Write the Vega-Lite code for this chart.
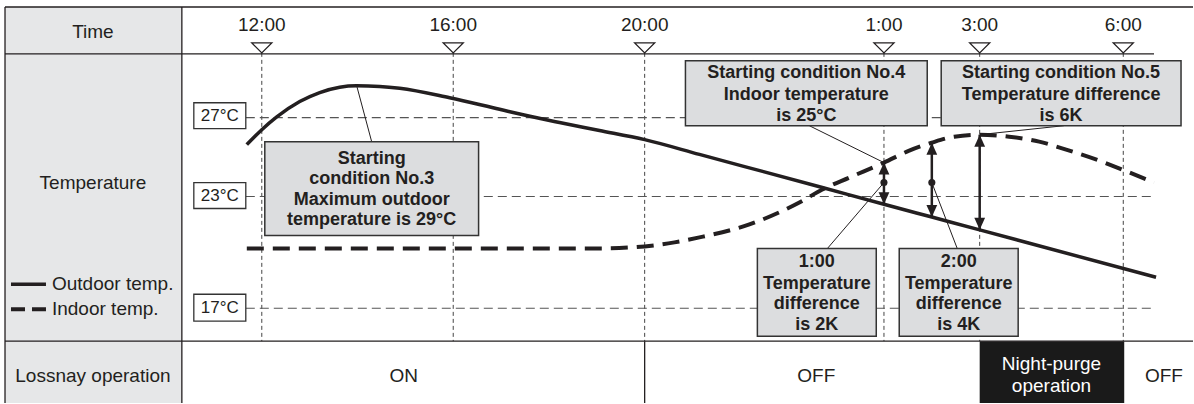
{
  "$schema": "https://vega.github.io/schema/vega-lite/v6.json",
  "width": 1194,
  "height": 404,
  "padding": 0,
  "autosize": {"type": "fit", "contains": "padding"},
  "background": "white",
  "config": {"view": {"stroke": null}, "text": {"font": "Liberation Sans"}},
  "datasets": {
    "leftcol": [{"h": 6.635, "h2": 10.33, "v": 0, "v2": 99.25}],
    "purge": [{"h": 27.0, "h2": 30.02, "v": 0, "v2": 15.5}],
    "tablelines": [
      {"h": 6.635, "h2": 31.457, "v": 99.25, "v2": 99.25},
      {"h": 6.635, "h2": 30.643, "v": 87.5, "v2": 87.5},
      {"h": 6.635, "h2": 31.457, "v": 15.5, "v2": 15.5},
      {"h": 6.635, "h2": 6.635, "v": 0, "v2": 99.25},
      {"h": 10.33, "h2": 10.33, "v": 0, "v2": 99.25},
      {"h": 20.0, "h2": 20.0, "v": 0, "v2": 15.5}
    ],
    "vgrid": [
      {"h": 12, "h2": 12, "v": 87.75, "v2": 15.5},
      {"h": 16, "h2": 16, "v": 87.75, "v2": 15.5},
      {"h": 20, "h2": 20, "v": 87.75, "v2": 15.5},
      {"h": 25, "h2": 25, "v": 87.75, "v2": 15.5},
      {"h": 27, "h2": 27, "v": 87.75, "v2": 15.5},
      {"h": 30, "h2": 30, "v": 87.75, "v2": 15.5}
    ],
    "hgrid": [
      {"h": 11.666, "h2": 30.643, "v": 71.5, "v2": 71.5},
      {"h": 11.666, "h2": 30.643, "v": 51.75, "v2": 51.75},
      {"h": 11.666, "h2": 30.643, "v": 23.75, "v2": 23.75}
    ],
    "outdoor": [
      {"h": 11.687, "v": 64.75}, {"h": 12.0, "v": 68.5}, {"h": 12.313, "v": 71.7},
      {"h": 12.793, "v": 75.55}, {"h": 13.211, "v": 77.8}, {"h": 13.628, "v": 79.15},
      {"h": 13.983, "v": 79.5}, {"h": 14.463, "v": 79.35}, {"h": 14.881, "v": 78.9},
      {"h": 15.925, "v": 76.5}, {"h": 16.969, "v": 73.6},
      {"h": 17.699, "v": 71.6}, {"h": 18.221, "v": 70.3}, {"h": 19.056, "v": 68.3},
      {"h": 20.0, "v": 66.0}, {"h": 21.144, "v": 62.3}, {"h": 23.712, "v": 54.0},
      {"h": 25.0, "v": 49.8}, {"h": 26.0, "v": 46.6}, {"h": 27.0, "v": 43.4},
      {"h": 30.685, "v": 31.5}
    ],
    "indoor": [
      {"h": 11.687, "v": 38.75}, {"h": 19.056, "v": 38.75}, {"h": 20.0, "v": 39.25},
      {"h": 20.622, "v": 40.25}, {"h": 21.144, "v": 41.5}, {"h": 22.188, "v": 44.75},
      {"h": 23.232, "v": 50.25}, {"h": 23.712, "v": 53.5}, {"h": 24.276, "v": 56.5},
      {"h": 25.0, "v": 60.25}, {"h": 25.528, "v": 63.25}, {"h": 26.0, "v": 65.25},
      {"h": 26.468, "v": 66.75}, {"h": 27.0, "v": 67.25}, {"h": 27.616, "v": 66.75},
      {"h": 28.242, "v": 65.5}, {"h": 28.806, "v": 63.5}, {"h": 29.495, "v": 60.75},
      {"h": 29.975, "v": 58.5}, {"h": 30.643, "v": 55.25}
    ],
    "leaders": [
      {"h": 14.296, "h2": 13.983, "v": 65.5, "v2": 79.5},
      {"h": 23.44, "h2": 25.0, "v": 69.5, "v2": 60.25},
      {"h": 28.76, "h2": 27.0, "v": 69.5, "v2": 67.25},
      {"h": 23.82, "h2": 25.0, "v": 38.75, "v2": 55.25},
      {"h": 26.53, "h2": 26.0, "v": 38.75, "v2": 55.25}
    ],
    "arrows": [
      {"h": 25.0, "h2": 25.0, "v": 49.8, "v2": 60.25},
      {"h": 26.0, "h2": 26.0, "v": 46.6, "v2": 65.25},
      {"h": 27.0, "h2": 27.0, "v": 43.4, "v2": 67.25}
    ],
    "heads_up": [{"h": 25.0, "v": 60.25}, {"h": 26.0, "v": 65.25}, {"h": 27.0, "v": 67.25}],
    "heads_down": [{"h": 25.0, "v": 49.8}, {"h": 26.0, "v": 46.6}, {"h": 27.0, "v": 43.4}],
    "dots": [{"h": 25.0, "v": 55.25}, {"h": 26.0, "v": 55.25}],
    "notes": [
      {"h": 12.063, "h2": 16.53, "v": 65.5, "v2": 42.0},
      {"h": 20.852, "h2": 25.904, "v": 85.75, "v2": 69.5},
      {"h": 26.196, "h2": 31.207, "v": 85.75, "v2": 69.5},
      {"h": 22.355, "h2": 24.839, "v": 38.75, "v2": 16.75},
      {"h": 25.319, "h2": 27.804, "v": 38.75, "v2": 16.75}
    ],
    "tempboxes": [
      {"h": 10.58, "h2": 11.666, "v": 75.25, "v2": 68.75},
      {"h": 10.58, "h2": 11.666, "v": 55.25, "v2": 48.75},
      {"h": 10.58, "h2": 11.666, "v": 27.25, "v2": 20.5}
    ],
    "ticks": [
      {"h": 12, "v": 89}, {"h": 16, "v": 89}, {"h": 20, "v": 89},
      {"h": 25, "v": 89}, {"h": 27, "v": 89}, {"h": 30, "v": 89}
    ],
    "legsolid": [{"h": 6.76, "h2": 7.491, "v": 29.75, "v2": 29.75}],
    "legdash": [{"h": 6.76, "h2": 7.491, "v": 23.5, "v2": 23.5}],
    "regtext": [
      {"h": 8.472, "v": 93, "t": "Time"},
      {"h": 8.472, "v": 55.25, "t": "Temperature"},
      {"h": 8.472, "v": 6.75, "t": "Lossnay operation"},
      {"h": 12, "v": 94.75, "t": "12:00"},
      {"h": 16, "v": 94.75, "t": "16:00"},
      {"h": 20, "v": 94.75, "t": "20:00"},
      {"h": 25, "v": 94.75, "t": "1:00"},
      {"h": 27, "v": 94.75, "t": "3:00"},
      {"h": 30, "v": 94.75, "t": "6:00"},
      {"h": 14.965, "v": 6.75, "t": "ON"},
      {"h": 23.587, "v": 6.75, "t": "OFF"},
      {"h": 30.85, "v": 6.75, "t": "OFF"}
    ],
    "templabels": [
      {"h": 11.123, "v": 72, "t": "27°C"},
      {"h": 11.123, "v": 52, "t": "23°C"},
      {"h": 11.123, "v": 23.75, "t": "17°C"}
    ],
    "legtext": [
      {"h": 7.616, "v": 29.75, "t": "Outdoor temp."},
      {"h": 7.616, "v": 23.5, "t": "Indoor temp."}
    ],
    "boldtext": [
      {"h": 14.296, "v": 61.25, "t": "Starting"},
      {"h": 14.296, "v": 56.25, "t": "condition No.3"},
      {"h": 14.296, "v": 51.0, "t": "Maximum outdoor"},
      {"h": 14.296, "v": 45.75, "t": "temperature is 29°C"},
      {"h": 23.378, "v": 82.75, "t": "Starting condition No.4"},
      {"h": 23.378, "v": 77.25, "t": "Indoor temperature"},
      {"h": 23.378, "v": 72.0, "t": "is 25°C"},
      {"h": 28.701, "v": 82.75, "t": "Starting condition No.5"},
      {"h": 28.701, "v": 77.25, "t": "Temperature difference"},
      {"h": 28.701, "v": 72.0, "t": "is 6K"},
      {"h": 23.597, "v": 35.25, "t": "1:00"},
      {"h": 23.597, "v": 29.75, "t": "Temperature"},
      {"h": 23.597, "v": 24.75, "t": "difference"},
      {"h": 23.597, "v": 19.5, "t": "is 2K"},
      {"h": 26.562, "v": 35.25, "t": "2:00"},
      {"h": 26.562, "v": 29.75, "t": "Temperature"},
      {"h": 26.562, "v": 24.75, "t": "difference"},
      {"h": 26.562, "v": 19.5, "t": "is 4K"}
    ],
    "whitetext": [
      {"h": 28.5, "v": 9.75, "t": "Night-purge"},
      {"h": 28.5, "v": 4.25, "t": "operation"}
    ]
  },
  "encoding": {
    "x": {"field": "h", "type": "quantitative", "scale": {"domain": [6.5303, 31.457], "nice": false, "zero": false}, "axis": null},
    "y": {"field": "v", "type": "quantitative", "scale": {"domain": [0, 101], "nice": false, "zero": false}, "axis": null}
  },
  "layer": [
    {"data": {"name": "leftcol"}, "mark": {"type": "rect", "fill": "#e6e7e8"},
     "encoding": {"x2": {"field": "h2"}, "y2": {"field": "v2"}}},
    {"data": {"name": "purge"}, "mark": {"type": "rect", "fill": "#1a1a1a"},
     "encoding": {"x2": {"field": "h2"}, "y2": {"field": "v2"}}},
    {"data": {"name": "vgrid"}, "mark": {"type": "rule", "color": "#444", "strokeWidth": 1, "strokeDash": [4, 3]},
     "encoding": {"x2": {"field": "h2"}, "y2": {"field": "v2"}}},
    {"data": {"name": "hgrid"}, "mark": {"type": "rule", "color": "#555", "strokeWidth": 1.2, "strokeDash": [9, 5]},
     "encoding": {"x2": {"field": "h2"}, "y2": {"field": "v2"}}},
    {"data": {"name": "tablelines"}, "mark": {"type": "rule", "color": "#231f20", "strokeWidth": 1.3},
     "encoding": {"x2": {"field": "h2"}, "y2": {"field": "v2"}}},
    {"data": {"name": "indoor"}, "mark": {"type": "line", "color": "#231f20", "strokeWidth": 4, "strokeDash": [17, 9], "interpolate": "monotone"},
     "encoding": {}},
    {"data": {"name": "outdoor"}, "mark": {"type": "line", "color": "#231f20", "strokeWidth": 3.5, "interpolate": "monotone"},
     "encoding": {}},
    {"data": {"name": "leaders"}, "mark": {"type": "rule", "color": "#231f20", "strokeWidth": 1},
     "encoding": {"x2": {"field": "h2"}, "y2": {"field": "v2"}}},
    {"data": {"name": "arrows"}, "mark": {"type": "rule", "color": "#231f20", "strokeWidth": 2.5},
     "encoding": {"x2": {"field": "h2"}, "y2": {"field": "v2"}}},
    {"data": {"name": "heads_up"}, "mark": {"type": "point", "shape": "M 0 0 L -0.45 1 L 0.45 1 Z", "size": 576, "filled": true, "opacity": 1, "color": "#231f20"},
     "encoding": {}},
    {"data": {"name": "heads_down"}, "mark": {"type": "point", "shape": "M 0 0 L -0.45 -1 L 0.45 -1 Z", "size": 576, "filled": true, "opacity": 1, "color": "#231f20"},
     "encoding": {}},
    {"data": {"name": "dots"}, "mark": {"type": "circle", "size": 50, "opacity": 1, "color": "#231f20"},
     "encoding": {}},
    {"data": {"name": "notes"}, "mark": {"type": "rect", "fill": "#dcdddf", "stroke": "#333", "strokeWidth": 1.5},
     "encoding": {"x2": {"field": "h2"}, "y2": {"field": "v2"}}},
    {"data": {"name": "tempboxes"}, "mark": {"type": "rect", "fill": "white", "stroke": "#333", "strokeWidth": 1.3},
     "encoding": {"x2": {"field": "h2"}, "y2": {"field": "v2"}}},
    {"data": {"name": "ticks"}, "mark": {"type": "point", "shape": "M -1 -0.5 L 1 -0.5 L 0 0.5 Z", "size": 400, "filled": true, "fill": "white", "stroke": "#231f20", "strokeWidth": 1.3, "opacity": 1},
     "encoding": {}},
    {"data": {"name": "legsolid"}, "mark": {"type": "rule", "color": "#231f20", "strokeWidth": 3.5},
     "encoding": {"x2": {"field": "h2"}, "y2": {"field": "v2"}}},
    {"data": {"name": "legdash"}, "mark": {"type": "rule", "color": "#231f20", "strokeWidth": 4, "strokeDash": [14, 7]},
     "encoding": {"x2": {"field": "h2"}, "y2": {"field": "v2"}}},
    {"data": {"name": "regtext"}, "mark": {"type": "text", "fontSize": 19, "color": "#231f20", "align": "center", "baseline": "middle"},
     "encoding": {"text": {"field": "t"}}},
    {"data": {"name": "templabels"}, "mark": {"type": "text", "fontSize": 17, "color": "#231f20", "align": "center", "baseline": "middle"},
     "encoding": {"text": {"field": "t"}}},
    {"data": {"name": "legtext"}, "mark": {"type": "text", "fontSize": 19, "color": "#231f20", "align": "left", "baseline": "middle"},
     "encoding": {"text": {"field": "t"}}},
    {"data": {"name": "boldtext"}, "mark": {"type": "text", "fontSize": 18, "fontWeight": "bold", "color": "#231f20", "align": "center", "baseline": "middle"},
     "encoding": {"text": {"field": "t"}}},
    {"data": {"name": "whitetext"}, "mark": {"type": "text", "fontSize": 19, "color": "white", "align": "center", "baseline": "middle"},
     "encoding": {"text": {"field": "t"}}}
  ]
}
